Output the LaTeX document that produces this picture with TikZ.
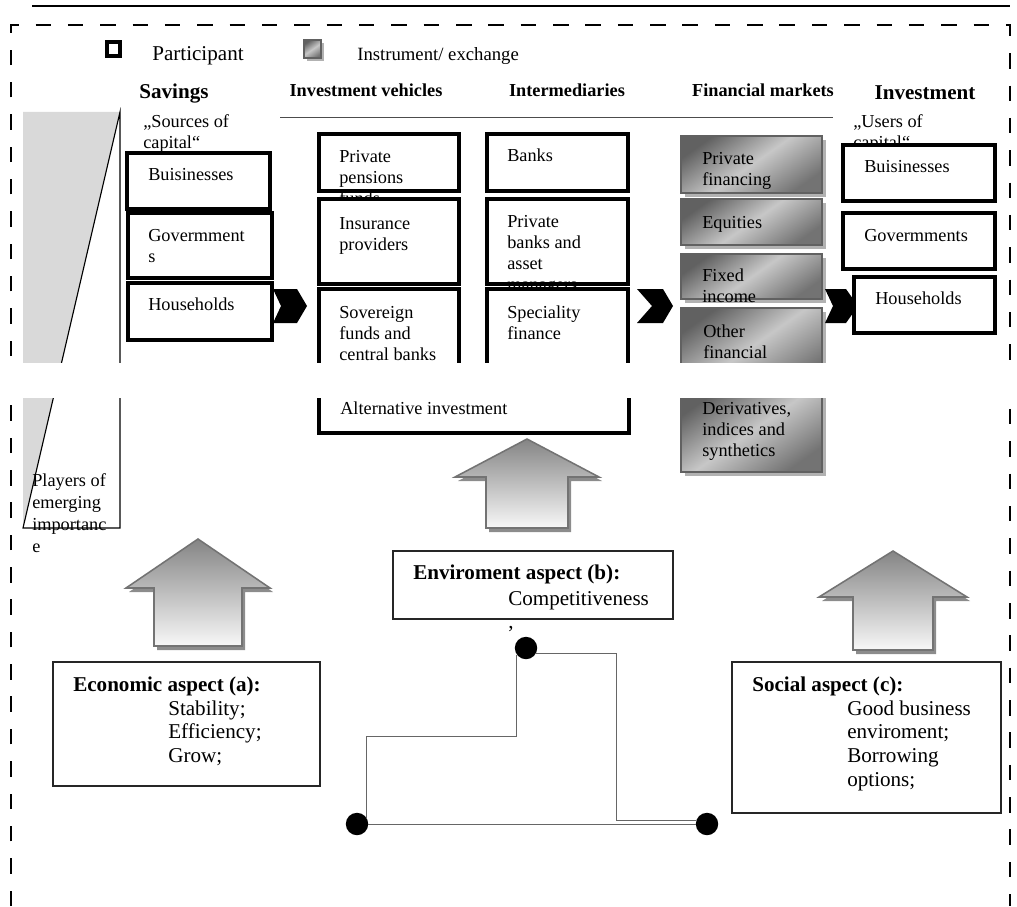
\documentclass[tikz,border=0pt]{standalone}
\usepackage{fontspec}
\setmainfont{Liberation Serif}

\tikzset{
  partbox/.style={draw=black,fill=white,line width=2.3pt},
  aspectbox/.style={draw=black!85,fill=white,line width=1.3pt},
  instrbox/.style={draw=black!62,line width=1.2pt,left color=black!62,right color=black!55,middle color=black!22,shading angle=35},
  instrshadow/.style={fill=black!30},
  upshape/.style={draw=black!55,line width=1.1pt,top color=black!48,bottom color=black!3},
  upshadow/.style={fill=black!45},
  chevron/.style={fill=black},
  txt/.style={anchor=north west,inner sep=0pt,align=left,font=\fontsize{13}{15}\selectfont},
  txtone/.style={anchor=base west,inner sep=0pt,font=\fontsize{13}{15}\selectfont},
  colhead/.style={anchor=base,inner sep=0pt,font=\fontsize{13}{15}\selectfont\bfseries},
  bighead/.style={anchor=base,inner sep=0pt,font=\fontsize{15}{17}\selectfont\bfseries},
  asptxt/.style={anchor=north west,inner sep=0pt,align=left,font=\fontsize{15}{17}\selectfont},
  asphead/.style={anchor=base west,inner sep=0pt,font=\fontsize{15}{17}\selectfont\bfseries},
  joint/.style={circle,fill=black,inner sep=0pt,minimum size=0.56cm},
  wire/.style={draw=black!60,line width=0.7pt}
}

\begin{document}
\begin{tikzpicture}[x=0.025cm,y=-0.025cm]
	\useasboundingbox (0,0) rectangle (1017,906);
	\draw[line width=1.5pt] (32,6)--(1010,6);
	\draw[line width=1.5pt,dash pattern=on 11pt off 12pt] (11,906)--(11,25)--(1010,25)--(1010,906);
	% legend
	\draw[line width=3pt] (107,42) rectangle (120,56);
	\node[txtone,font=\fontsize{15}{17}\selectfont] (lPart) at (152,61){Participant};
	\fill[instrshadow] (307,43) rectangle (324,61);
	\draw[instrbox] (304,40) rectangle (321,58);
	\node[txtone,font=\fontsize{13.3}{15}\selectfont] (lInst) at (357,61){Instrument/ exchange};
	% column heads
	\node[bighead] (hSav) at (174,99){Savings};
	\node[colhead] (hVeh) at (366,97){Investment vehicles};
	\node[colhead] (hInt) at (567,97){Intermediaries};
	\node[colhead] (hMar) at (763,97){Financial markets};
	\node[bighead] (hInv) at (925,100){Investment};
	\draw[black!70,line width=0.7pt] (280,117)--(833,117);
	% wedge
	\fill[black!15] (23,112)--(120,112)--(23,528)--cycle;
	\draw[line width=0.8pt] (120,112)--(23,528)--(120,528)--cycle;
	\node[txt,font=\fontsize{13}{15.6}\selectfont] (tPlay) at (32,471){\strut Players of\\emerging\\importanc\\e};
	% savings
	\node[txt] (tSrc) at (143,112){\strut „Sources of\\capital“};
	\draw[partbox] (127,153) rectangle (270,209);
	\node[txtone] (tSBus) at (148,181){Buisinesses};
	\draw[partbox] (128,213) rectangle (272,278);
	\node[txt] (tSGov) at (148,226){\strut Govermment\\s};
	\draw[partbox] (128,283) rectangle (272,340);
	\node[txtone] (tSHou) at (148,310){Households};
	\fill[chevron] (273,289)--(297,289)--(307,306)--(297,323)--(273,323)--(281,306)--cycle;
	% investment vehicles
	\draw[partbox] (319,370) rectangle (629,433);
	\node[txtone] (tAlt) at (340,414){Alternative investment};
	\draw[partbox] (319,134) rectangle (459,191);
	\node[txt] (tPen) at (339,147){\strut Private\\pensions\\funds};
	\draw[partbox] (319,199) rectangle (459,284);
	\node[txt] (tIns) at (339,214){\strut Insurance\\providers};
	\draw[partbox] (319,289) rectangle (459,380);
	\node[txt] (tSov) at (339,303){\strut Sovereign\\funds and\\central banks};
	% intermediaries
	\draw[partbox] (487,134) rectangle (628,191);
	\node[txtone] (tBank) at (507,162){Banks};
	\draw[partbox] (487,199) rectangle (628,284);
	\node[txt] (tPriv) at (507,212){\strut Private\\banks and\\asset\\managers};
	\draw[partbox] (487,289) rectangle (628,380);
	\node[txt] (tSpec) at (507,303){\strut Speciality\\finance};
	\fill[chevron] (637,289)--(663,289)--(673,306)--(663,323)--(637,323)--(652,306)--cycle;
	% financial markets
	\foreach \ya/\yb in {136/193,199/245,254/299,308/385,390/472}{
		\fill[instrshadow] (685,\ya+4) rectangle (826,\yb+4);
		\draw[instrbox] (681,\ya) rectangle (822,\yb);
	}
	\node[txt] (tPF) at (702,149){\strut Private\\financing};
	\node[txtone] (tEq) at (702,228){Equities};
	\node[txt] (tFI) at (702,266){\strut Fixed\\income};
	\node[txt] (tOF) at (703,322){\strut Other\\financial};
	\node[txt] (tDer) at (702,399){\strut Derivatives,\\indices and\\synthetics};
	\fill[chevron] (825,289)--(846,289)--(858,306)--(846,323)--(825,323)--(833,306)--cycle;
	% investment
	\node[txt] (tUse) at (853,112){\strut „Users of\\capital“};
	\draw[partbox] (843,145) rectangle (995,201);
	\node[txtone] (tIBus) at (864,173){Buisinesses};
	\draw[partbox] (843,213) rectangle (995,269);
	\node[txtone] (tIGov) at (864,241){Govermments};
	\draw[partbox] (854,277) rectangle (995,333);
	\node[txtone] (tIHou) at (875,304){Households};
	% up arrows
	\foreach \cx/\ty/\wy/\by/\hw/\sw in {198/539/588/646/72/44,527/439/477/528/72/41,893/551/597/650/74/40}{
		\fill[upshadow,shift={(3,4)}] (\cx,\ty)--(\cx+\hw,\wy)--(\cx+\sw,\wy)--(\cx+\sw,\by)--(\cx-\sw,\by)--(\cx-\sw,\wy)--(\cx-\hw,\wy)--cycle;
		\draw[upshape] (\cx,\ty)--(\cx+\hw,\wy)--(\cx+\sw,\wy)--(\cx+\sw,\by)--(\cx-\sw,\by)--(\cx-\sw,\wy)--(\cx-\hw,\wy)--cycle;
	}
	% aspects
	\draw[aspectbox] (53,662) rectangle (320,786);
	\node[asphead] (aEco) at (73,691){Economic aspect (a):};
	\node[asptxt] (lEco) at (168,698){\strut Stability;\\Efficiency;\\Grow;};
	\draw[aspectbox] (393,551) rectangle (673,619);
	\node[asphead] (aEnv) at (413,579){Enviroment aspect (b):};
	\node[asptxt] (lEnv) at (508,588){\strut Competitiveness\\,};
	\draw[aspectbox] (732,662) rectangle (1001,813);
	\node[asphead] (aSoc) at (752,691){Social aspect (c):};
	\node[asptxt] (lSoc) at (847,698){\strut Good business\\enviroment;\\Borrowing\\options;};
	% links
	\node[joint] (d1) at (526,648){};
	\node[joint] (d2) at (357,824){};
	\node[joint] (d3) at (707,824){};
	\coordinate (k1) at (0,736);
	\coordinate (k2) at (616,817);
	\draw[wire] (d1.215)--(d1.215|-k1)-|(d2.30);
	\draw[wire] (d1.-30)-|(k2)|-(d3.160);
	\draw[wire] (d2)--(d3);
	% blank band
	\fill[white] (0,363) rectangle (1017,398);
\end{tikzpicture}
\end{document}
